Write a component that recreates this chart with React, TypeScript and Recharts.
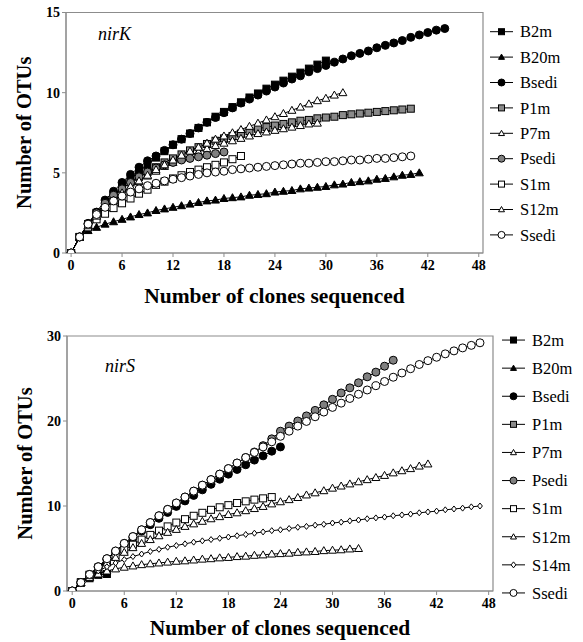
import { LineChart, Line, XAxis, YAxis, Legend, ReferenceArea } from 'recharts'

const SERIF = "'Liberation Serif', 'Times New Roman', Times, 'DejaVu Serif', serif"
const FRAME = '#8c8c8c'

// clones sequenced: index i of each array is i clones
// ---- nirK ----
const kB2m = [0, 1, 1.8, 2.5, 3.1, 3.6, 4.1, 4.6, 5.1, 5.5, 5.95, 6.35, 6.75, 7.1, 7.45, 7.8, 8.15, 8.5, 8.8, 9.1, 9.4, 9.7, 9.95, 10.25, 10.5, 10.75, 11.0, 11.25, 11.5, 11.75, 12.0]
const kB20m = [0, 1, 1.4, 1.6, 1.8, 1.95, 2.1, 2.25, 2.4, 2.5, 2.65, 2.75, 2.85, 2.95, 3.05, 3.15, 3.25, 3.3, 3.4, 3.45, 3.5, 3.6, 3.65, 3.7, 3.8, 3.85, 3.9, 4.0, 4.05, 4.1, 4.15, 4.25, 4.3, 4.4, 4.45, 4.5, 4.6, 4.65, 4.75, 4.85, 4.9, 5.0]
const kBsedi = [0, 1, 1.85, 2.55, 3.3, 3.85, 4.4, 4.9, 5.35, 5.75, 6.05, 6.4, 6.75, 7.1, 7.45, 7.8, 8.15, 8.45, 8.75, 9.05, 9.35, 9.6, 9.85, 10.1, 10.35, 10.6, 10.85, 11.05, 11.3, 11.5, 11.7, 11.9, 12.1, 12.3, 12.45, 12.6, 12.8, 12.95, 13.1, 13.25, 13.45, 13.6, 13.75, 13.9, 14.0]
const kP1m = [0, 1, 1.8, 2.5, 3.05, 3.55, 4.0, 4.4, 4.75, 5.05, 5.35, 5.65, 5.9, 6.15, 6.4, 6.6, 6.8, 7.0, 7.15, 7.3, 7.45, 7.6, 7.75, 7.85, 7.95, 8.05, 8.15, 8.25, 8.3, 8.4, 8.45, 8.5, 8.6, 8.65, 8.7, 8.75, 8.8, 8.85, 8.9, 8.95, 9.0]
const kP7m = [0, 1, 1.7, 2.3, 2.8, 3.25, 3.7, 4.1, 4.45, 4.8, 5.1, 5.4, 5.65, 5.9, 6.1, 6.3, 6.5, 6.7, 6.85, 7.0, 7.15, 7.3, 7.45, 7.55, 7.65, 7.75, 7.85, 7.95, 8.05, 8.1]
const kPsedi = [0, 1, 1.8, 2.5, 3.1, 3.6, 4.0, 4.4, 4.75, 5.05, 5.3, 5.5, 5.65, 5.8, 5.9, 6.0, 6.1, 6.2, 6.3]
const kS1m = [0, 1, 1.6, 2.1, 2.45, 2.8, 3.1, 3.4, 3.7, 3.95, 4.25, 4.45, 4.65, 4.85, 5.05, 5.2, 5.35, 5.5, 5.65, 5.85, 6.05]
const kS12m = [0, 1, 1.7, 2.3, 2.85, 3.3, 3.75, 4.15, 4.5, 4.85, 5.2, 5.5, 5.8, 6.1, 6.35, 6.6, 6.85, 7.1, 7.3, 7.5, 7.7, 7.9, 8.1, 8.3, 8.5, 8.7, 8.9, 9.1, 9.3, 9.5, 9.65, 9.85, 10.0]
const kSsedi = [0, 1, 1.8, 2.4, 2.85, 3.25, 3.55, 3.8, 4.0, 4.2, 4.35, 4.5, 4.6, 4.7, 4.8, 4.9, 5.0, 5.05, 5.1, 5.2, 5.25, 5.3, 5.35, 5.4, 5.45, 5.5, 5.55, 5.6, 5.6, 5.65, 5.7, 5.7, 5.75, 5.8, 5.8, 5.85, 5.9, 5.9, 5.95, 6.0, 6.05]

// ---- nirS ----
const sB2m = [0, 1, 1.5, 1.9, 2.0]
const sB20m = [0, 1, 1.6, 2.0]
const sBsedi = [0, 1, 1.9, 2.8, 3.7, 4.6, 5.45, 6.25, 7.05, 7.8, 8.55, 9.25, 9.95, 10.6, 11.25, 11.9, 12.55, 13.15, 13.75, 14.3, 14.85, 15.4, 15.9, 16.45, 16.95]
const sP1m = [0, 1, 1.9, 2.7, 3.5]
const sP7m = [0, 1, 1.6, 2.0, 2.35, 2.6, 2.8, 2.95, 3.1, 3.2, 3.3, 3.4, 3.5, 3.55, 3.65, 3.75, 3.8, 3.9, 3.95, 4.05, 4.1, 4.2, 4.25, 4.35, 4.4, 4.45, 4.55, 4.6, 4.65, 4.75, 4.8, 4.85, 4.95, 5.0]
const sPsedi = [0, 1, 1.95, 2.85, 3.8, 4.7, 5.6, 6.4, 7.2, 8.05, 8.85, 9.6, 10.35, 11.05, 11.75, 12.45, 13.1, 13.75, 14.4, 15.05, 15.7, 16.35, 17.1, 17.9, 18.8, 19.4, 20.0, 20.6, 21.25, 21.9, 22.55, 23.3, 23.9, 24.5, 25.2, 25.75, 26.45, 27.15]
const sS1m = [0, 1, 1.9, 2.75, 3.5, 4.2, 4.85, 5.45, 6.05, 6.6, 7.1, 7.6, 8.05, 8.45, 8.85, 9.2, 9.55, 9.85, 10.1, 10.35, 10.55, 10.75, 10.9, 11.05]
const sS12m = [0, 1, 1.85, 2.6, 3.3, 3.95, 4.55, 5.1, 5.6, 6.05, 6.5, 6.9, 7.25, 7.6, 7.9, 8.2, 8.5, 8.75, 9.0, 9.2, 9.45, 9.7, 9.95, 10.25, 10.5, 10.75, 11.0, 11.3, 11.55, 11.8, 12.1, 12.35, 12.6, 12.85, 13.1, 13.35, 13.6, 13.9, 14.15, 14.4, 14.7, 14.95]
const sS14m = [0, 1, 1.75, 2.35, 2.85, 3.3, 3.7, 4.05, 4.35, 4.65, 4.9, 5.15, 5.35, 5.55, 5.75, 5.9, 6.05, 6.2, 6.35, 6.5, 6.65, 6.8, 6.95, 7.1, 7.2, 7.35, 7.5, 7.6, 7.75, 7.85, 8.0, 8.1, 8.25, 8.35, 8.5, 8.6, 8.7, 8.85, 8.95, 9.05, 9.2, 9.3, 9.4, 9.55, 9.65, 9.75, 9.9, 10.0]
const sSsedi = [0, 1, 1.95, 2.85, 3.8, 4.7, 5.6, 6.4, 7.2, 8.05, 8.85, 9.6, 10.35, 11.05, 11.75, 12.45, 13.1, 13.75, 14.4, 15.05, 15.7, 16.3, 16.95, 17.55, 18.2, 18.8, 19.4, 19.95, 20.5, 21.05, 21.6, 22.1, 22.65, 23.15, 23.65, 24.15, 24.65, 25.15, 25.65, 26.15, 26.65, 27.1, 27.5, 27.9, 28.25, 28.6, 28.9, 29.2]

const X_TICKS = [0, 6, 12, 18, 24, 30, 36, 42, 48]
const K_Y_TICKS = [0, 5, 10, 15]
const S_Y_TICKS = [0, 10, 20, 30]

const K_SERIES: Record<string, number[]> = {
  B2m: kB2m, B20m: kB20m, Bsedi: kBsedi, P1m: kP1m, P7m: kP7m,
  Psedi: kPsedi, S1m: kS1m, S12m: kS12m, Ssedi: kSsedi,
}
const S_SERIES: Record<string, number[]> = {
  B2m: sB2m, B20m: sB20m, Bsedi: sBsedi, P1m: sP1m, P7m: sP7m,
  Psedi: sPsedi, S1m: sS1m, S12m: sS12m, S14m: sS14m, Ssedi: sSsedi,
}

type Shape = 'square' | 'triangle' | 'circle' | 'diamond'

// marker look per sample, Excel-style
const MARKERS: Record<string, { shape: Shape; fill: string }> = {
  B2m: { shape: 'square', fill: '#000' },
  B20m: { shape: 'triangle', fill: '#000' },
  Bsedi: { shape: 'circle', fill: '#000' },
  P1m: { shape: 'square', fill: '#8a8a8a' },
  P7m: { shape: 'triangle', fill: '#fff' },
  Psedi: { shape: 'circle', fill: '#808080' },
  S1m: { shape: 'square', fill: '#fff' },
  S12m: { shape: 'triangle', fill: '#fff' },
  S14m: { shape: 'diamond', fill: '#fff' },
  Ssedi: { shape: 'circle', fill: '#fff' },
}

function buildRows(series: Record<string, number[]>) {
  const n = Math.max(...Object.values(series).map(a => a.length))
  const rows: Array<Record<string, number>> = []
  for (let i = 0; i < n; i++) {
    const row: Record<string, number> = { x: i }
    for (const [k, a] of Object.entries(series)) if (i < a.length) row[k] = a[i]
    rows.push(row)
  }
  return rows
}

function Marker({ shape, fill, cx, cy, size }: { shape: Shape; fill: string; cx: number; cy: number; size: number }) {
  const h = size / 2
  const common = { fill, stroke: '#000', strokeWidth: 1 }
  if (shape === 'circle') return <circle cx={cx} cy={cy} r={h} {...common} />
  if (shape === 'square') return <rect x={cx - h} y={cy - h} width={size} height={size} {...common} />
  if (shape === 'diamond') return <polygon points={`${cx},${cy - h} ${cx + h * 0.8},${cy} ${cx},${cy + h} ${cx - h * 0.8},${cy}`} {...common} />
  return <polygon points={`${cx},${cy - h} ${cx + h},${cy + h * 0.75} ${cx - h},${cy + h * 0.75}`} {...common} />
}

const MARKER_SIZE: Record<Shape, number> = { circle: 8, square: 7, triangle: 8, diamond: 6 }

interface ChartProps {
  series: Record<string, number[]>
  gene: string
  yMax: number
  yTicks: number[]
  height: number
  margin: { top: number; right: number; bottom: number; left: number }
  legendPos: { left: number; top: number }
  legendGap: number
  titleGap: number
  geneOffset: { dx: number; dy: number }
}

function RarefactionChart({ series, gene, yMax, yTicks, height, margin, legendPos, legendGap, titleGap, geneOffset }: ChartProps) {
  const rows = buildRows(series)
  const names = Object.keys(series)
  const tickStyle = { fontSize: 14, fontWeight: 700, fill: '#000', fontFamily: SERIF }

  const renderLegend = ({ payload }: any) => {
    const items = [...(payload ?? [])].sort((a: any, b: any) => names.indexOf(a.value) - names.indexOf(b.value))
    return (
      <svg width={95} height={legendGap * items.length} style={{ display: 'block' }}>
        {items.map((p: any, i: number) => {
          const cy = legendGap * i + legendGap / 2
          const m = MARKERS[p.value]
          return (
            <g key={p.value}>
              <line x1={0} x2={23} y1={cy} y2={cy} stroke="#000" strokeWidth={1} />
              <Marker shape={m.shape} fill={m.fill} cx={11.5} cy={cy} size={m.shape === 'circle' ? 7 : 6} />
              <text x={30} y={cy} dy="0.35em" fontFamily={SERIF} fontSize={16.5} fill="#000">{p.value}</text>
            </g>
          )
        })}
      </svg>
    )
  }

  return (
    <LineChart width={583} height={height} data={rows} margin={margin}>
      <XAxis
        type="number"
        dataKey="x"
        domain={[-0.6, 48.5]}
        ticks={X_TICKS}
        allowDataOverflow
        height={30}
        tick={tickStyle}
        tickSize={4}
        tickMargin={3}
        stroke={FRAME}
        label={{
          content: ({ viewBox }: any) => (
            <text x={viewBox.x + viewBox.width / 2} y={viewBox.y + titleGap} textAnchor="middle" dominantBaseline="central"
              fontFamily={SERIF} fontSize={21.5} fontWeight={700} fill="#000">Number of clones sequenced</text>
          ),
        }}
      />
      <YAxis
        type="number"
        domain={[0, yMax]}
        ticks={yTicks}
        allowDataOverflow
        width={45}
        tick={tickStyle}
        tickSize={4}
        tickMargin={2}
        stroke={FRAME}
        label={{
          content: ({ viewBox }: any) => {
            const cx = viewBox.x + 3
            const cy = viewBox.y + viewBox.height / 2
            return (
              <text transform={`translate(${cx},${cy}) rotate(-90)`} textAnchor="middle" dominantBaseline="central"
                fontFamily={SERIF} fontSize={20.5} fontWeight={700} fill="#000">Number of OTUs</text>
            )
          },
        }}
      />
      <ReferenceArea x1={-0.6} x2={48.5} y1={0} y2={yMax} fill="none" stroke={FRAME} strokeWidth={1.2}
        label={{
          content: ({ viewBox }: any) => (
            <text x={viewBox.x + geneOffset.dx} y={viewBox.y + geneOffset.dy} fontFamily={SERIF} fontSize={18}
              fontStyle="italic" fill="#000">{gene}</text>
          ),
        }}
      />
      <Legend layout="vertical" align="center" verticalAlign="middle" content={renderLegend}
        wrapperStyle={{ left: legendPos.left, top: legendPos.top, width: 95 }} />
      {names.map(name => {
        const m = MARKERS[name]
        return (
          <Line
            key={name}
            dataKey={name}
            name={name}
            stroke="#000"
            strokeWidth={1}
            isAnimationActive={false}
            activeDot={false}
            dot={(p: any) =>
              p.cx == null || p.cy == null || p.value == null
                ? <g key={`${name}-${p.index}`} />
                : <Marker key={`${name}-${p.index}`} shape={m.shape} fill={m.fill} cx={p.cx} cy={p.cy} size={MARKER_SIZE[m.shape]} />
            }
          />
        )
      })}
    </LineChart>
  )
}

export default function App() {
  return (
    <div style={{ width: 583, height: 642, background: '#fff', fontFamily: SERIF }}>
      <style>{`body{margin:0} svg text{font-family:${SERIF} !important}`}</style>
      <RarefactionChart
        series={K_SERIES}
        gene="nirK"
        yMax={15}
        yTicks={K_Y_TICKS}
        height={312}
        margin={{ top: 12.5, right: 100, bottom: 29, left: 21 }}
        legendPos={{ left: 490, top: 19.3 }}
        legendGap={25.4}
        titleGap={43}
        geneOffset={{ dx: 32, dy: 27.5 }}
      />
      <RarefactionChart
        series={S_SERIES}
        gene="nirS"
        yMax={30}
        yTicks={S_Y_TICKS}
        height={330}
        margin={{ top: 24, right: 90, bottom: 21, left: 22 }}
        legendPos={{ left: 502, top: 14 }}
        legendGap={28.1}
        titleGap={37}
        geneOffset={{ dx: 38, dy: 36 }}
      />
    </div>
  )
}
